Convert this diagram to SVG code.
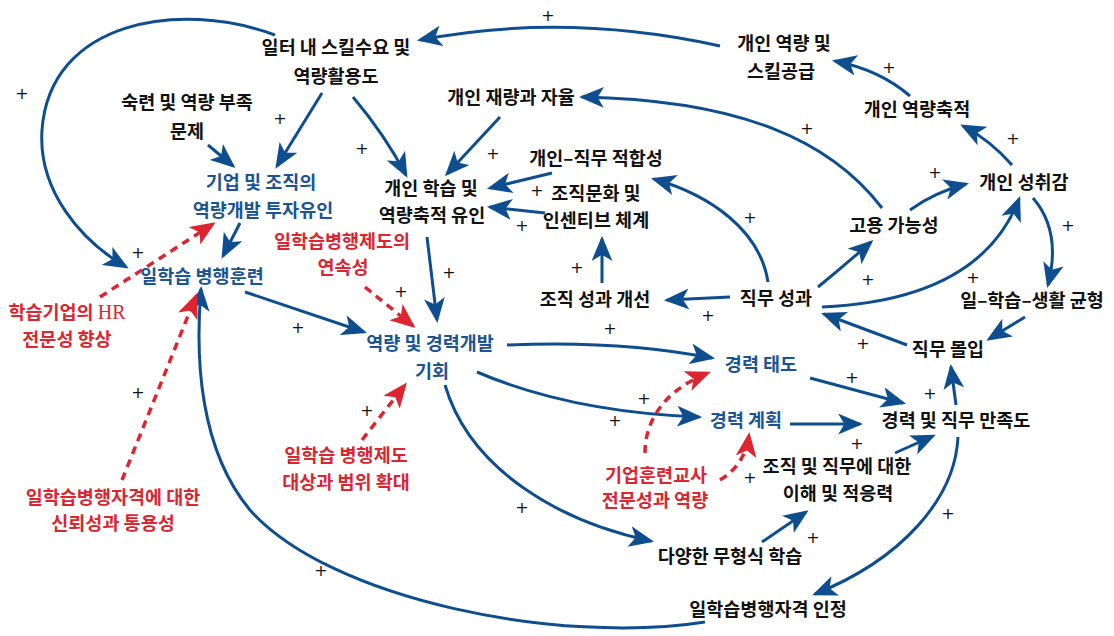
<svg xmlns="http://www.w3.org/2000/svg" width="1114" height="636" viewBox="0 0 1114 636">
<defs>
<marker id="ab" viewBox="0 0 24 20" markerWidth="25" markerHeight="21" refX="21" refY="10" orient="auto" markerUnits="userSpaceOnUse"><path d="M0,0 L24,10 L0,20 L6,10 z" fill="#0e4e8e"/></marker>
<marker id="ar" viewBox="0 0 24 20" markerWidth="25" markerHeight="21" refX="21" refY="10" orient="auto" markerUnits="userSpaceOnUse"><path d="M0,0 L24,10 L0,20 L6,10 z" fill="#dc2531"/></marker>
</defs>
<style>
text{font-family:"Noto Sans CJK KR","Noto Sans",sans-serif;font-size:18.5px;font-weight:700;text-anchor:middle;fill:#111}
.b{fill:#1a5494}
.r{fill:#dc2531}
.p{font-family:"DejaVu Sans",sans-serif;font-size:16px;font-weight:400;fill:#111}
.hr{font-family:"Liberation Serif",serif;font-size:20px;font-weight:400}
.c path{fill:none;stroke:#0e4e8e;stroke-width:3;marker-end:url(#ab)}
.d path{fill:none;stroke:#dc2531;stroke-width:3.5;stroke-dasharray:8 6;marker-end:url(#ar)}
</style>
<rect width="1114" height="636" fill="#fff"/>
<g id="connectors">
<g class="c">
<path d="M720,46 Q565,12 420,40"/>
<path d="M275,35 C180,0 50,20 42,130 C38,190 80,240 126,267"/>
<path d="M208,145 L233,166"/>
<path d="M322,93 L277,166"/>
<path d="M353,97 Q385,135 406,175"/>
<path d="M500,117 L447,174"/>
<path d="M552,173 L490,188"/>
<path d="M545,213 L490,207"/>
<path d="M427,237 L437,320"/>
<path d="M240,223 L223,256"/>
<path d="M245,292 L364,332"/>
<path d="M507,345 Q620,340 712,358"/>
<path d="M477,372 Q570,412 699,417"/>
<path d="M445,385 C470,470 560,522 651,541"/>
<path d="M705,622 C560,645 330,600 250,510 C200,450 195,360 201,289"/>
<path d="M958,437 C955,500 900,560 815,594"/>
<path d="M762,542 L806,512"/>
<path d="M895,453 L933,436"/>
<path d="M790,424 L860,424"/>
<path d="M810,378 L903,403"/>
<path d="M956,405 L951,367"/>
<path d="M1025,317 L989,339"/>
<path d="M907,345 L824,314"/>
<path d="M822,307 Q980,300 1019,199"/>
<path d="M818,287 Q845,265 871,242"/>
<path d="M768,282 C760,230 710,195 654,179"/>
<path d="M730,297 L667,300"/>
<path d="M602,283 L602,239"/>
<path d="M882,208 C830,140 740,100 582,97"/>
<path d="M910,210 Q935,192 966,184"/>
<path d="M1033,198 C1052,220 1057,250 1048,285"/>
<path d="M1012,165 Q990,140 963,126"/>
<path d="M910,96 Q880,70 835,61"/>
</g>
<g class="d">
<path d="M100,297 L213,224"/>
<path d="M122,480 L196,296"/>
<path d="M365,287 L413,326"/>
<path d="M362,440 L405,385"/>
<path d="M645,453 C645,420 665,390 708,373"/>
<path d="M720,480 Q745,465 749,435"/>
</g>
</g>
<g id="n1"><text x="336" y="54">일터 내 스킬수요 및</text><text x="336" y="83">역량활용도</text></g>
<g id="n2"><text x="187" y="109">숙련 및 역량 부족</text><text x="187" y="138">문제</text></g>
<g id="n3"><text class="b" x="261" y="189">기업 및 조직의</text><text class="b" x="263" y="217">역량개발 투자유인</text></g>
<g id="n4"><text x="511" y="104">개인 재량과 자율</text></g>
<g id="n5"><text x="784" y="50">개인 역량 및</text><text x="781" y="78">스킬공급</text></g>
<g id="n6"><text x="917" y="116">개인 역량축적</text></g>
<g id="n7"><text x="431" y="195">개인 학습 및</text><text x="432" y="222">역량축적 유인</text></g>
<g id="n8"><text x="596" y="165">개인–직무 적합성</text></g>
<g id="n9"><text x="596" y="200">조직문화 및</text><text x="596" y="227">인센티브 체계</text></g>
<g id="n10"><text x="1024" y="189">개인 성취감</text></g>
<g id="n11"><text x="894" y="232">고용 가능성</text></g>
<g id="n12"><text x="776" y="305">직무 성과</text></g>
<g id="n13"><text x="595" y="306">조직 성과 개선</text></g>
<g id="n14"><text x="1032" y="307">일–학습–생활 균형</text></g>
<g id="n15"><text x="948" y="356">직무 몰입</text></g>
<g id="n16"><text x="956" y="427">경력 및 직무 만족도</text></g>
<g id="n17"><text class="b" x="761" y="371">경력 태도</text></g>
<g id="n18"><text class="b" x="746" y="427">경력 계획</text></g>
<g id="n19"><text x="837" y="473">조직 및 직무에 대한</text><text x="838" y="500">이해 및 적응력</text></g>
<g id="n20"><text x="730" y="563">다양한 무형식 학습</text></g>
<g id="n21"><text x="768" y="616">일학습병행자격 인정</text></g>
<g id="n22"><text class="b" x="202" y="283">일학습 병행훈련</text></g>
<g id="n23"><text class="b" x="430" y="350">역량 및 경력개발</text><text class="b" x="432" y="378">기회</text></g>
<g id="n24"><text class="r" x="67" y="319">학습기업의 <tspan class="hr">HR</tspan></text><text class="r" x="67" y="346">전문성 향상</text></g>
<g id="n25"><text class="r" x="342" y="248">일학습병행제도의</text><text class="r" x="343" y="274">연속성</text></g>
<g id="n26"><text class="r" x="346" y="462">일학습 병행제도</text><text class="r" x="346" y="489">대상과 범위 확대</text></g>
<g id="n27"><text class="r" x="113" y="504">일학습병행자격에 대한</text><text class="r" x="113" y="530">신뢰성과 통용성</text></g>
<g id="n28"><text class="r" x="656" y="482">기업훈련교사</text><text class="r" x="655" y="507">전문성과 역량</text></g>
<g id="signs">
<text class="p" x="548" y="21">+</text>
<text class="p" x="22" y="99">+</text>
<text class="p" x="280" y="124">+</text>
<text class="p" x="362" y="154">+</text>
<text class="p" x="493" y="159">+</text>
<text class="p" x="537" y="196">+</text>
<text class="p" x="522" y="231">+</text>
<text class="p" x="889" y="73">+</text>
<text class="p" x="807" y="134">+</text>
<text class="p" x="1013" y="144">+</text>
<text class="p" x="935" y="178">+</text>
<text class="p" x="750" y="223">+</text>
<text class="p" x="1068" y="231">+</text>
<text class="p" x="138" y="258">+</text>
<text class="p" x="449" y="278">+</text>
<text class="p" x="401" y="297">+</text>
<text class="p" x="577" y="273">+</text>
<text class="p" x="868" y="285">+</text>
<text class="p" x="973" y="283">+</text>
<text class="p" x="298" y="333">+</text>
<text class="p" x="708" y="321">+</text>
<text class="p" x="610" y="334">+</text>
<text class="p" x="863" y="349">+</text>
<text class="p" x="852" y="383">+</text>
<text class="p" x="644" y="404">+</text>
<text class="p" x="930" y="399">+</text>
<text class="p" x="615" y="426">+</text>
<text class="p" x="138" y="398">+</text>
<text class="p" x="367" y="416">+</text>
<text class="p" x="857" y="449">+</text>
<text class="p" x="750" y="483">+</text>
<text class="p" x="522" y="513">+</text>
<text class="p" x="813" y="543">+</text>
<text class="p" x="948" y="519">+</text>
<text class="p" x="321" y="576">+</text>
</g>
</svg>
